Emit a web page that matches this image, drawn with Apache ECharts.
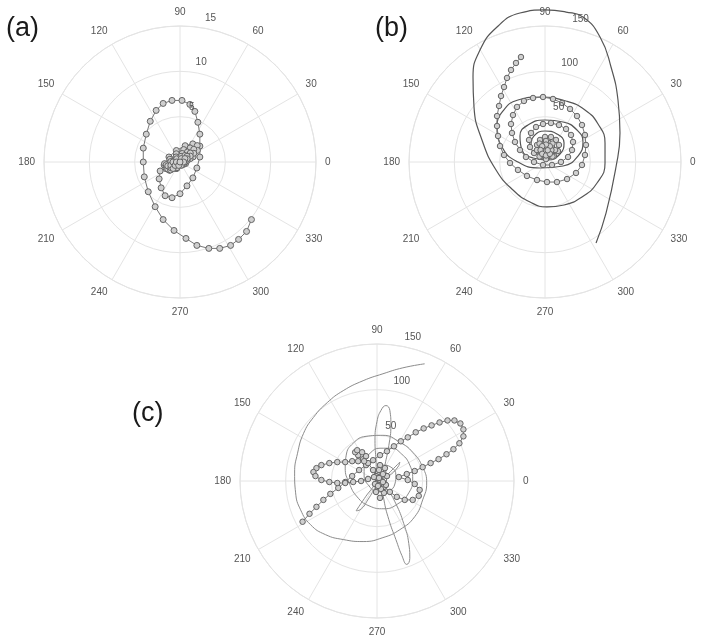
<!DOCTYPE html>
<html><head><meta charset="utf-8">
<script src="https://cdn.jsdelivr.net/npm/echarts@6/dist/echarts.min.js"></script>
<style>html,body{margin:0;padding:0;background:#fff}#c{width:706px;height:640px}</style>
</head><body><div id="c"></div>
<script>
const panelLabels = ['(a)', '(b)', '(c)'];
const angleStep = 30;
const aRadiusTicks = [5, 10, 15];
const bRadiusTicks = [50, 100, 150];
const cRadiusTicks = [50, 100, 150];

// (a) trajectory with markers, [x, y] in radial units
const aMarkers = [
[7.88,-6.35],[7.34,-7.66],[6.46,-8.54],[5.58,-9.20],[4.38,-9.53],[3.18,-9.53],[1.86,-9.20],[0.66,-8.43],[-0.66,-7.55],[-1.86,-6.35],
[-2.74,-4.93],[-3.50,-3.28],[-3.94,-1.64],[-4.05,0],[-4.05,1.53],[-3.72,3.07],[-3.28,4.49],[-2.63,5.69],[-1.86,6.46],[-0.88,6.79],
[0.22,6.79],[1.09,6.35],[1.64,5.58],[1.97,4.38],[2.19,3.07],[2.19,1.75],[2.19,0.55],[1.86,-0.66],[1.42,-1.75],[0.77,-2.63],
[0,-3.50],[-0.88,-3.94],[-1.64,-3.72],[-2.08,-2.85],[-2.30,-1.86],[-2.19,-0.99],[-1.75,-0.33],
[-1.70,-0.18],[-1.22,0.55],[-0.40,1.27],[0.57,1.80],[1.41,2.00],[1.90,1.81],[1.92,1.28],[1.44,0.56],[0.62,-0.17],[-0.35,-0.70],[-1.19,-0.90],
[-1.52,-0.74],[-1.52,-0.30],[-1.12,0.30],[-0.41,0.91],[0.41,1.37],[1.12,1.55],[1.52,1.40],[1.52,0.96],[1.12,0.36],[0.41,-0.25],[-0.41,-0.71],[-1.12,-0.89],
[-1.36,-0.77],[-1.35,-0.43],[-1.01,0.06],[-0.43,0.56],[0.24,0.94],[0.82,1.10],[1.14,0.99],[1.13,0.65],[0.79,0.16],[0.21,-0.34],[-0.46,-0.72],[-1.04,-0.88],
[-1.00,-0.63],[-1.01,-0.36],[-0.78,0.00],[-0.36,0.36],[0.12,0.63],[0.54,0.72],[0.78,0.63],[0.79,0.36],[0.56,0.00],[0.14,-0.36],[-0.34,-0.63],[-0.76,-0.72],
[-0.54,-0.38],[-0.40,0.00],[0.14,0.38],[0.54,0.38],[0.40,0.00],[-0.14,-0.38],[0,0]
];

// (b) spiral with markers
const bMarkers = [
[-26.5,115.8],[-32.0,109.2],[-37.5,101.5],[-41.9,92.7],[-45.2,82.7],[-48.5,72.8],[-50.7,61.8],[-52.9,50.7],[-52.9,39.7],[-51.8,28.7],
[-49.6,17.6],[-45.2,7.7],[-38.6,-1.1],[-29.8,-8.8],[-19.9,-15.4],[-8.8,-19.9],[2.2,-22.1],[13.2,-22.1],[24.3,-18.8],[34.2,-12.1],
[40.8,-3.3],[44.1,7.7],[45.2,18.8],[44.1,29.8],[40.8,40.8],[35.3,50.7],[27.6,58.5],[18.8,65.1],[8.8,69.5],[-2.2,71.7],
[-13.2,70.6],[-23.2,67.3],[-30.9,60.7],[-35.3,51.8],[-37.5,41.9],[-36.4,32.0],[-33.1,22.1],[-27.6,13.2],[-21.0,5.5],[-12.1,0],
[-2.2,-3.3],[7.7,-3.3],[17.6,0],[25.4,5.5],[29.8,13.2],[30.9,22.1],[28.7,29.8],[23.2,36.4],[15.4,40.8],[6.6,43.0],
[-2.2,41.9],[-9.9,38.6],[-15.4,32.0],[-17.6,24.3],[-16.5,16.5],[-12.1,9.9],[-5.5,5.5],[2.2,4.4],[9.9,6.6],[14.3,12.1],
[15.4,18.8],[12.1,24.3],[6.6,27.6],[0,27.6],[-5.5,24.3],[-8.8,18.8],[-7.7,13.2],[-3.3,8.8],[2.2,8.8],[6.6,12.1],
[7.7,16.5],[4.4,21.0],[0,21.0],[-3.3,17.6],[-2.2,13.2],[1.1,12.1],
[11.1,13.2],[8.2,20.3],[1.1,23.2],[-6.0,20.3],[-8.9,13.2],[-6.0,6.1],[1.1,3.2],[8.2,6.1],
[7.1,13.2],[5.3,17.4],[1.1,19.2],[-3.1,17.4],[-4.9,13.2],[-3.1,9.0],[1.1,7.2],[5.3,9.0],[3.0,13.0]
];
// (b) spiral drawn as a plain line
const bLine = [
[56.3,-89.3],[67.3,-56.3],[78.3,-5.5],[82.7,32.0],[80.5,68.4],[72.8,104.8],[60.7,137.9],[41.9,159.9],[23.2,165.4],[0,167.7],
[-27.6,164.3],[-52.9,148.9],[-71.7,123.5],[-79.4,93.8],[-78.3,60.7],[-69.5,24.3],[-54.0,-8.8],[-35.3,-30.9],[-16.5,-44.1],[2.2,-49.6],
[21.0,-47.4],[40.8,-38.6],[57.4,-23.2],[66.2,-1.1],[66.2,21.0],[58.5,41.9],[44.1,57.4],[23.2,67.3],[-4.4,71.7],[-29.8,68.4],
[-46.3,56.3],[-52.9,38.6],[-47.4,16.5],[-32.0,1.1],[-5.5,-6.6],[19.9,-4.4],[36.4,6.6],[41.9,22.1],[35.3,35.3],[19.9,44.1],
[0,46.3],[-18.8,40.8],[-27.6,28.7],[-25.4,13.2],[-13.2,4.4],[3.3,2.2],[16.5,8.8],[21.0,21.0],[13.2,30.9],[0,34.2],
[-12.1,28.7],[-15.4,17.6],[-7.7,8.8],[5.5,8.8],[9.9,17.6],[2.2,23.2],[-4.4,16.5],[1.1,13.2]
];

// (c) rosette with markers
const cMarkers = [
[-81.5,-44.6],[-73.9,-35.9],[-66.3,-28.3],[-58.7,-20.7],[-51.1,-14.1],[-42.4,-7.6],[-34.8,-1.1],[-27.2,5.4],[-19.6,12.0],[-12.0,17.4],
[-4.3,22.8],[3.3,28.3],[10.9,32.6],[18.5,38.0],[26.1,43.5],[33.7,47.8],[42.4,53.3],[51.1,57.6],[59.8,60.9],[68.5,64.1],
[77.2,66.3],[84.8,66.3],[91.3,63.0],[94.6,56.5],[94.6,48.9],[90.2,41.3],[83.7,34.8],[76.1,29.3],[67.4,23.9],[58.7,19.6],
[50.0,15.2],[41.3,10.9],[32.6,7.6],[23.9,4.3],[33.7,1.1],[41.3,-3.3],[46.7,-9.8],[45.7,-16.3],[39.1,-20.7],[30.4,-20.7],
[21.7,-17.4],[14.1,-12.0],[7.6,-6.5],[3.3,1.1],[1.1,9.8],[3.3,17.4],[8.7,14.1],[10.9,5.4],[9.8,-4.3],[7.6,-13.0],
[3.3,-18.5],[-1.1,-12.0],[-2.2,-3.3],[-1.1,5.4],[2.2,12.0],[6.5,7.6],[6.5,-1.1],[4.3,-8.7],[1.1,-5.4],[0,3.3],
[-4.3,12.0],[-9.8,19.6],[-15.2,23.9],[-20.7,28.3],[-23.9,31.5],[-21.7,33.7],[-16.3,31.5],[-12.0,27.2],[-14.1,21.7],[-20.7,21.7],
[-27.2,21.7],[-34.8,20.7],[-43.5,20.7],[-52.2,19.6],[-60.9,17.4],[-66.3,14.1],[-69.6,9.8],[-67.4,5.4],[-60.9,1.1],[-52.2,-1.1],
[-43.5,-2.2],[-34.8,-2.2],[-26.1,-1.1],[-17.4,0],[-9.8,2.2],[-3.3,4.3],[2.2,3.3]
];
// (c) rosette drawn as a plain line
const cLine = [
[52.2,128.3],[28.3,123.9],[6.5,117.4],[-15.2,109.8],[-37.0,98.9],[-54.4,85.9],[-69.6,69.6],[-80.4,52.2],[-87.0,30.4],[-90.2,8.7],
[-89.1,-13.0],[-83.7,-31.5],[-72.8,-47.8],[-56.5,-58.7],[-37.0,-64.1],[-15.2,-66.3],[6.5,-62.0],[25.0,-53.3],[41.3,-39.1],[50.0,-20.7],
[54.4,-2.2],[50.0,15.2],[39.1,31.5],[25.0,42.4],[6.5,50.0],[-12.0,48.9],[-26.1,41.3],[-33.7,28.3],[-34.8,14.1],[-30.4,-2.2],
[-21.7,-17.4],[-8.7,-27.2],[7.6,-30.4],[22.8,-25.0],[34.8,-13.0],[39.1,2.2],[35.9,17.4],[27.2,29.3],[15.2,35.9],[3.3,35.9],
[-7.6,30.4],[-14.1,19.6],[-14.1,6.5],[-8.7,-5.4],[1.1,-12.0],[12.0,-10.9],[19.6,-3.3],[20.7,6.5],[15.2,15.2],[6.5,17.4],
[0,9.8],[-1.1,22.8],[-2.2,44.6],[0,65.2],[4.3,77.2],[9.8,82.6],[14.1,77.2],[15.2,60.9],[13.0,39.1],[8.7,17.4],
[5.4,-1.1],[7.6,-20.7],[13.0,-42.4],[20.7,-64.1],[27.2,-81.5],[32.6,-91.3],[35.9,-84.8],[34.8,-68.5],[29.3,-46.7],[20.7,-25.0],
[10.9,-8.7],[2.2,-1.1],[-7.6,-10.9],[-16.3,-22.8],[-22.8,-32.6],[-18.5,-31.5],[-8.7,-18.5],[0,-4.3],[12.0,7.6],[20.7,16.3],
[25.0,20.7],[22.8,15.2],[13.0,5.4],[3.3,0]
];

const panels = [
  {center: [180, 162], r: 136, max: 15, ticks: aRadiusTicks, label: panelLabels[0], lx: 6, ly: 15, rayAngle: 78, size: 6},
  {center: [545, 162], r: 136, max: 150, ticks: bRadiusTicks, label: panelLabels[1], lx: 375, ly: 15, rayAngle: 76, size: 5.5},
  {center: [377, 481], r: 137, max: 150, ticks: cRadiusTicks, label: panelLabels[2], lx: 132, ly: 400, rayAngle: 76, size: 5.5}
];

const gridColor = '#e4e4e4';
const labelColor = '#555';
const polar = [], angleAxis = [], radiusAxis = [], grid = [], xAxis = [], yAxis = [], graphic = [];
panels.forEach((p, i) => {
  const off = 11;
  polar.push({center: p.center, radius: p.r});
  polar.push({center: p.center, radius: p.r + off});
  angleAxis.push({
    polarIndex: 2 * i, type: 'value', min: 0, max: 360, interval: angleStep,
    startAngle: 0, clockwise: false,
    axisLine: {show: true, lineStyle: {color: gridColor, width: 1}},
    axisTick: {show: false},
    splitLine: {show: true, lineStyle: {color: gridColor, width: 1}},
    axisLabel: {color: labelColor, fontSize: 10, margin: 9, fontFamily: 'Liberation Sans, Arial, sans-serif',
      formatter: v => (v >= 360 ? '' : String(v))}
  });
  angleAxis.push({polarIndex: 2 * i + 1, type: 'value', min: 0, max: 360, startAngle: p.rayAngle, show: false});
  radiusAxis.push({
    polarIndex: 2 * i, type: 'value', min: 0, max: p.max, interval: p.max / 3,
    axisLine: {show: false}, axisTick: {show: false}, axisLabel: {show: false},
    splitLine: {show: true, lineStyle: {color: gridColor, width: 1}}
  });
  radiusAxis.push({
    polarIndex: 2 * i + 1, type: 'value', min: p.max - (p.r + off) * p.max / p.r, max: p.max, z: 10,
    axisLine: {show: false}, axisTick: {show: false}, splitLine: {show: false},
    axisLabel: {show: true, customValues: p.ticks, color: labelColor, fontSize: 10, margin: 0,
      align: 'center', verticalAlign: 'middle', fontFamily: 'Liberation Sans, Arial, sans-serif',
      formatter: v => (p.ticks.indexOf(v) >= 0 ? String(v) : '')}
  });
  grid.push({left: p.center[0] - p.r, top: p.center[1] - p.r, width: 2 * p.r, height: 2 * p.r});
  xAxis.push({gridIndex: i, type: 'value', min: -p.max, max: p.max, show: false});
  yAxis.push({gridIndex: i, type: 'value', min: -p.max, max: p.max, show: false});
  graphic.push({type: 'text', left: p.lx, top: p.ly,
    style: {text: p.label, fontSize: 27, fill: '#1a1a1a', fontFamily: 'Liberation Sans, Arial, sans-serif'}});
});

function markerSeries(data, gi, size) {
  return {type: 'line', xAxisIndex: gi, yAxisIndex: gi, data: data, clip: false,
    symbol: 'circle', symbolSize: size, showSymbol: true, z: 3,
    itemStyle: {color: '#cfcfcf', borderColor: '#646464', borderWidth: 1},
    lineStyle: {color: '#767676', width: 1}, emphasis: {disabled: true}};
}
function plainLine(data, gi, color, width) {
  return {type: 'line', xAxisIndex: gi, yAxisIndex: gi, data: data, clip: false,
    showSymbol: false, smooth: 0.5, z: 2,
    lineStyle: {color: color, width: width}, emphasis: {disabled: true}};
}

const chart = echarts.init(document.getElementById('c'), null, {renderer: 'canvas'});
chart.setOption({
  animation: false,
  backgroundColor: '#ffffff',
  polar, angleAxis, radiusAxis, grid, xAxis, yAxis, graphic,
  series: [
    markerSeries(aMarkers, 0, panels[0].size),
    plainLine(bLine, 1, '#555555', 1.2),
    markerSeries(bMarkers, 1, panels[1].size),
    plainLine(cLine, 2, '#8c8c8c', 1),
    markerSeries(cMarkers, 2, panels[2].size)
  ]
});
</script></body></html>
